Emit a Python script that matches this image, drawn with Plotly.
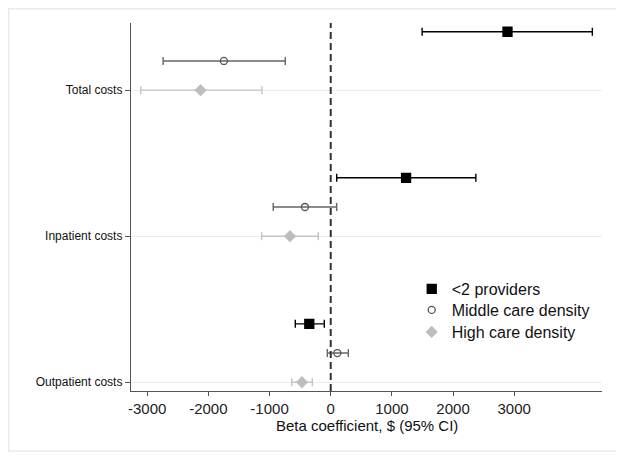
import plotly.graph_objects as go

categories = ["Outpatient costs", "Inpatient costs", "Total costs"]
cat_pos = [0, 1, 2]

series_names = ["<2 providers", "Middle care density", "High care density"]
# values ordered as categories: Outpatient, Inpatient, Total
few_est = [-350, 1232, 2890]
few_lo = [-579, 98, 1494]
few_hi = [-105, 2373, 4277]

mid_est = [108, -421, -1746]
mid_lo = [-56, -940, -2740]
mid_hi = [288, 98, -743]

high_est = [-470, -666, -2128]
high_lo = [-638, -1129, -3105]
high_hi = [-301, -203, -1124]

x_ticks = [-3000, -2000, -1000, 0, 1000, 2000, 3000]
x_title = "Beta coefficient, $ (95% CI)"

FONT = "Liberation Sans, Arial, sans-serif"

fig = go.Figure()

def add_series(name, est, lo, hi, offset, symbol, msize, mcolor, mline, ecolor, ethick, legend):
    ys = [p + offset for p in cat_pos]
    fig.add_trace(go.Scatter(
        x=est, y=ys, mode="markers", name=name, legend=legend,
        marker=dict(symbol=symbol, size=msize, color=mcolor,
                    line=dict(color=mline, width=1.3)),
        error_x=dict(type="data", symmetric=False,
                     array=[h - e for h, e in zip(hi, est)],
                     arrayminus=[e - l for e, l in zip(est, lo)],
                     color=ecolor, thickness=ethick, width=4),
    ))

add_series(series_names[0], few_est, few_lo, few_hi, 0.4, "square", 9, "black", "black", "black", 1.4, "legend")
add_series(series_names[1], mid_est, mid_lo, mid_hi, 0.2, "circle-open", 7, "#555555", "#555555", "#666666", 1.4, "legend2")
add_series(series_names[2], high_est, high_lo, high_hi, 0.0, "diamond", 8, "#bdbdbd", "#bdbdbd", "#c4c4c4", 1.4, "legend3")

fig.add_shape(type="line", xref="x", yref="paper", x0=0, x1=0, y0=0, y1=1,
              line=dict(color="#333333", width=2, dash="7px,4px"))

fig.add_shape(type="rect", xref="paper", yref="paper",
              x0=-0.2596, x1=1.0318, y0=-0.163, y1=1.0387,
              line=dict(color="#e6ecec", width=1.5), layer="below")

fig.add_annotation(text=x_title, xref="paper", yref="paper", x=0.5, y=-0.0935,
                   xanchor="center", yanchor="middle", showarrow=False,
                   font=dict(size=15, color="#111111", family=FONT))

def leg(y):
    return dict(x=0.596, y=y, xanchor="left", yanchor="top",
                font=dict(size=16, family=FONT, color="#111111"),
                bgcolor="rgba(0,0,0,0)")

fig.update_layout(
    width=616, height=449,
    margin=dict(l=123, r=22, t=15, b=66),
    paper_bgcolor="white", plot_bgcolor="white",
    font=dict(family=FONT, color="#111111"),
    showlegend=True,
    legend=leg(0.3234),
    legend2=leg(0.2663),
    legend3=leg(0.2065),
    xaxis=dict(range=[-3265, 4435], tickvals=x_ticks,
               ticktext=[str(v) for v in x_ticks],
               showgrid=False, zeroline=False,
               showline=True, linecolor="#555555", linewidth=1.3,
               ticks="outside", ticklen=4, tickcolor="#555555",
               tickfont=dict(size=15, color="#222222")),
    yaxis=dict(range=[-0.06, 2.46], tickvals=cat_pos, ticktext=categories,
               showgrid=True, gridcolor="#e6f0f0", gridwidth=1,
               zeroline=False, showline=True, linecolor="#555555", linewidth=1.3,
               ticks="outside", ticklen=5, tickcolor="#555555",
               tickfont=dict(size=12, color="#111111")),
)

fig.write_html("out.html")
